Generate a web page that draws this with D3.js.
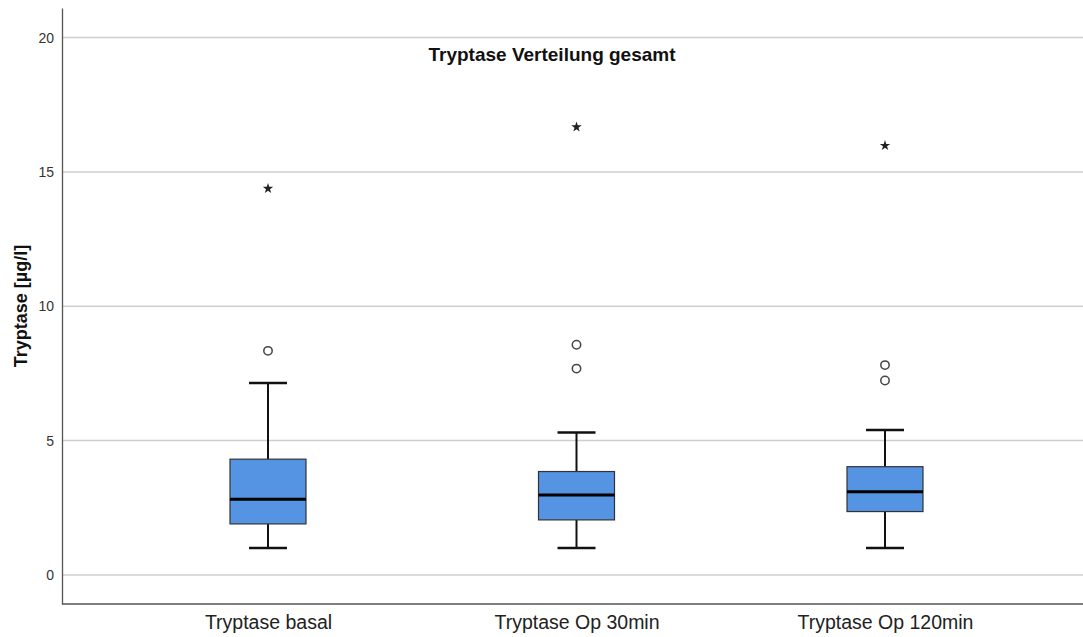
<!DOCTYPE html>
<html>
<head>
<meta charset="utf-8">
<script src="https://cdn.jsdelivr.net/npm/d3@7"></script>
<style>
body { margin: 0; background: #fff; }
text { font-family: "Liberation Sans", Arial, sans-serif; }
</style>
</head>
<body>
<div id="chart"></div>
<script>
// data
var categories = ['Tryptase basal', 'Tryptase Op 30min', 'Tryptase Op 120min']
var lowWhisker = [1.0, 1.0, 1.0]
var q1 = [1.9, 2.05, 2.36]
var median = [2.82, 2.98, 3.1]
var q3 = [4.31, 3.85, 4.03]
var highWhisker = [7.14, 5.3, 5.4]
var outliers = [[8.34], [8.57, 7.68], [7.81, 7.24]]
var extremes = [[14.38], [16.67], [15.98]]
var yTicks = [0, 5, 10, 15, 20]

var width = 1083, height = 637

var svg = d3.select('#chart').append('svg').attr('width', width).attr('height', height)

var y = d3.scaleLinear().domain([-1.08, 21.1]).range([604, 8])
var x = d3.scalePoint().domain(categories).range([268, 885])

// grid
svg.append('g').selectAll('line').data(yTicks).enter().append('line')
	.attr('x1', 62).attr('x2', width)
	.attr('y1', function(d){return y(d)}).attr('y2', function(d){return y(d)})
	.attr('stroke', '#cfcfcf').attr('stroke-width', 1.5)

// axes
var yAxis = svg.append('g').attr('transform', 'translate(62,0)')
	.call(d3.axisLeft(y).tickValues(yTicks).tickSize(0).tickPadding(8))
yAxis.select('.domain').attr('stroke', '#555').attr('stroke-width', 1.3)
yAxis.selectAll('text').attr('font-size', 14).attr('fill', '#333')

var xAxis = svg.append('g').attr('transform', 'translate(0,604)')
	.call(d3.axisBottom(x).tickSize(0).tickPadding(11))
xAxis.select('.domain').attr('d', 'M62,0H' + width).attr('stroke', '#555').attr('stroke-width', 1.3)
xAxis.selectAll('text').attr('font-size', 19.5).attr('fill', '#222')

// boxes
var rows = categories.map(function(c, i){
	return {cat: c, lo: lowWhisker[i], q1: q1[i], med: median[i], q3: q3[i], hi: highWhisker[i], out: outliers[i], ext: extremes[i]}
})

var boxW = 76, capW = 38
var g = svg.selectAll('g.box').data(rows).enter().append('g').attr('class', 'box')
	.attr('transform', function(d){return 'translate(' + x(d.cat) + ',0)'})

g.append('line').attr('x1', 0).attr('x2', 0)
	.attr('y1', function(d){return y(d.lo)}).attr('y2', function(d){return y(d.q1)})
	.attr('stroke', '#111').attr('stroke-width', 2)
g.append('line').attr('x1', 0).attr('x2', 0)
	.attr('y1', function(d){return y(d.q3)}).attr('y2', function(d){return y(d.hi)})
	.attr('stroke', '#111').attr('stroke-width', 2)
g.append('line').attr('x1', -capW / 2).attr('x2', capW / 2)
	.attr('y1', function(d){return y(d.lo)}).attr('y2', function(d){return y(d.lo)})
	.attr('stroke', '#111').attr('stroke-width', 2.5)
g.append('line').attr('x1', -capW / 2).attr('x2', capW / 2)
	.attr('y1', function(d){return y(d.hi)}).attr('y2', function(d){return y(d.hi)})
	.attr('stroke', '#111').attr('stroke-width', 2.5)

g.append('rect').attr('x', -boxW / 2).attr('width', boxW)
	.attr('y', function(d){return y(d.q3)})
	.attr('height', function(d){return y(d.q1) - y(d.q3)})
	.attr('fill', '#5593e3').attr('stroke', '#333').attr('stroke-width', 1.2)
g.append('line').attr('x1', -boxW / 2).attr('x2', boxW / 2)
	.attr('y1', function(d){return y(d.med)}).attr('y2', function(d){return y(d.med)})
	.attr('stroke', '#000').attr('stroke-width', 3)

g.selectAll('circle').data(function(d){return d.out}).enter().append('circle')
	.attr('cx', 0).attr('cy', function(d){return y(d)}).attr('r', 4.2)
	.attr('fill', '#fff').attr('stroke', '#444').attr('stroke-width', 1.5)

g.selectAll('path.star').data(function(d){return d.ext}).enter().append('path')
	.attr('class', 'star')
	.attr('transform', function(d){return 'translate(0,' + y(d) + ')'})
	.attr('d', d3.symbol().type(d3.symbolStar).size(34))
	.attr('fill', '#222')

// title and label
svg.append('text').attr('x', 552).attr('y', 61).attr('text-anchor', 'middle')
	.attr('font-size', 19).attr('font-weight', 'bold').attr('fill', '#111')
	.text('Tryptase Verteilung gesamt')

svg.append('text').attr('transform', 'translate(27,306) rotate(-90)').attr('text-anchor', 'middle')
	.attr('font-size', 18).attr('font-weight', 'bold').attr('fill', '#111')
	.text('Tryptase [µg/l]')
</script>
</body>
</html>
